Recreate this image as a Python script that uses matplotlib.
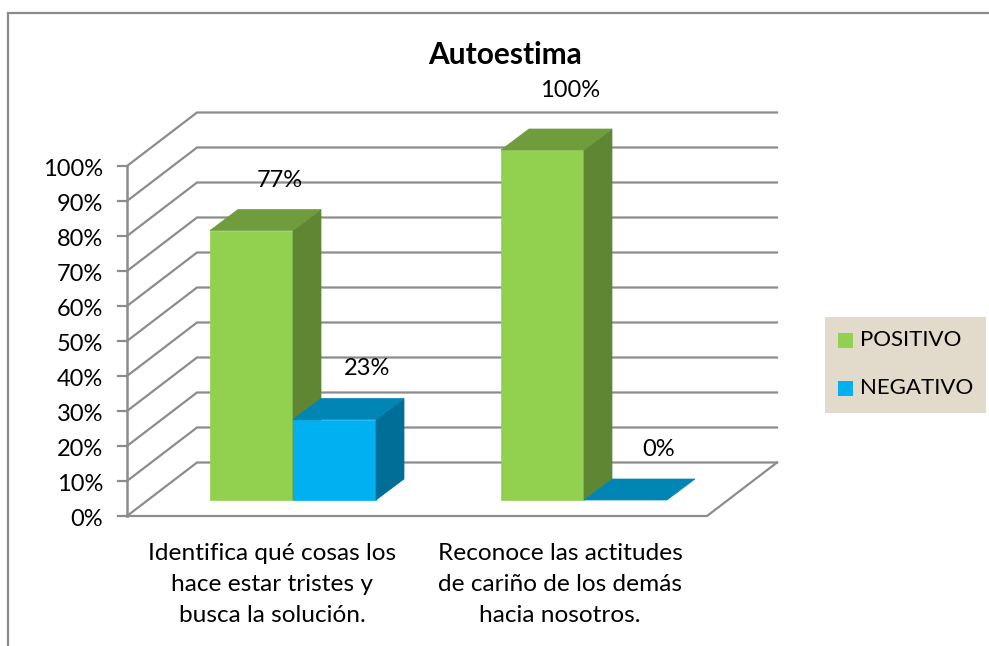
import numpy as np
import matplotlib
matplotlib.use('Agg')
import matplotlib.pyplot as plt
from matplotlib.patches import Polygon, Rectangle

plt.rcParams['font.family'] = ['Lato', 'DejaVu Sans']

title = 'Autoestima'
categories = ['Identifica qué cosas los\nhace estar tristes y\nbusca la solución.',
              'Reconoce las actitudes\nde cariño de los demás\nhacia nosotros.']
positivo = [77, 100]
negativo = [23, 0]
series_names = ['POSITIVO', 'NEGATIVO']
yticks = np.arange(0, 101, 10)

W, H = 989, 646
PX = 3.5             # pixels per percent
Y0 = 516             # pixel row of 0%
WALL_DX, WALL_DY = 70, 53.5 / PX
BAR_DX, BAR_DY = 28, 21 / PX
BAR_BASE = 16 / PX
BAR_W = 83
GROUP_X = [210, 501]

GREEN = ('#92D050', '#6F9C3D', '#5F8632')
BLUE = ('#00B0F0', '#0085B5', '#006F98')
GRID = '#8C8C8C'


def box(ax, x, val, cols):
    b = BAR_BASE
    t = b + val
    if val > 0:
        ax.add_patch(Polygon([(x, b), (x + BAR_W, b), (x + BAR_W, t), (x, t)],
                             fc=cols[0], ec=cols[0], lw=0.5, zorder=3))
        ax.add_patch(Polygon([(x + BAR_W, b), (x + BAR_W + BAR_DX, b + BAR_DY),
                              (x + BAR_W + BAR_DX, t + BAR_DY), (x + BAR_W, t)],
                             fc=cols[2], ec=cols[2], lw=0.5, zorder=3))
    ax.add_patch(Polygon([(x, t), (x + BAR_W, t), (x + BAR_W + BAR_DX, t + BAR_DY),
                          (x + BAR_DX, t + BAR_DY)],
                         fc=cols[1], ec=cols[1], lw=0.5, zorder=3))


def main():
    fig = plt.figure(figsize=(W / 100, H / 100), dpi=100)
    ax = fig.add_axes([0, 0, 1, 1])
    ax.set_xlim(0, W)
    ax.set_ylim(-(H - Y0) / PX, Y0 / PX)
    ax.axis('off')

    # chart frame, only top and left are visible
    ax.plot([8, 8, W], [-(H - Y0) / PX, (Y0 - 13.5) / PX, (Y0 - 13.5) / PX],
            color='#8A8A8A', lw=1.6, zorder=1, solid_joinstyle='miter')

    x_l, x_r = 127, 707
    for v in yticks:
        ax.plot([x_l, x_l + WALL_DX, x_r + WALL_DX],
                [v, v + WALL_DY, v + WALL_DY], color=GRID, lw=1.6, zorder=1,
                solid_joinstyle='miter')
        ax.plot([118, x_l], [v, v], color=GRID, lw=1.6, zorder=1)
        ax.text(103, v - 1.0, f'{v}%', ha='right', va='center', fontsize=17, color='k')
    ax.plot([x_l, x_l], [0, 100], color=GRID, lw=1.8, zorder=1)
    ax.plot([x_l, x_r, x_r + WALL_DX], [0, 0, WALL_DY], color=GRID, lw=1.6,
            zorder=1, solid_joinstyle='miter')

    label_up = {0: (14.3, 14.7), 1: (17.1, 14.5)}
    for i, x in enumerate(GROUP_X):
        box(ax, x, positivo[i], GREEN)
        box(ax, x + BAR_W, negativo[i], BLUE)
        ax.text(x + BAR_W / 2 + 28, BAR_BASE + positivo[i] + label_up[i][0],
                f'{positivo[i]}%', ha='center', va='center', fontsize=17, zorder=5)
        ax.text(x + BAR_W * 1.5 + 33, BAR_BASE + negativo[i] + label_up[i][1],
                f'{negativo[i]}%', ha='center', va='center', fontsize=17, zorder=5)

    for x, lab in zip([272, 560], categories):
        ax.text(x, (Y0 - 542.5) / PX, lab, ha='center', va='top', fontsize=17.6,
                linespacing=1.6)

    ax.text(505, (Y0 - 55) / PX, title, ha='center', va='center', fontsize=21.5,
            fontweight='bold')

    # legend box
    ax.add_patch(Rectangle((825, (Y0 - 413) / PX), 161, 96 / PX, fc='#E2DACB',
                           ec='none', zorder=2))
    for y, c, name in zip([340.5, 388.5], [GREEN[0], BLUE[0]], series_names):
        ax.add_patch(Rectangle((838, (Y0 - y - 7.5) / PX), 15, 15 / PX, fc=c,
                               ec='none', zorder=3))
        ax.text(860, (Y0 - y) / PX, name, ha='left', va='center', fontsize=16,
                zorder=3)

    fig.savefig('out.png', dpi=100)


if __name__ == "__main__":
    main()
